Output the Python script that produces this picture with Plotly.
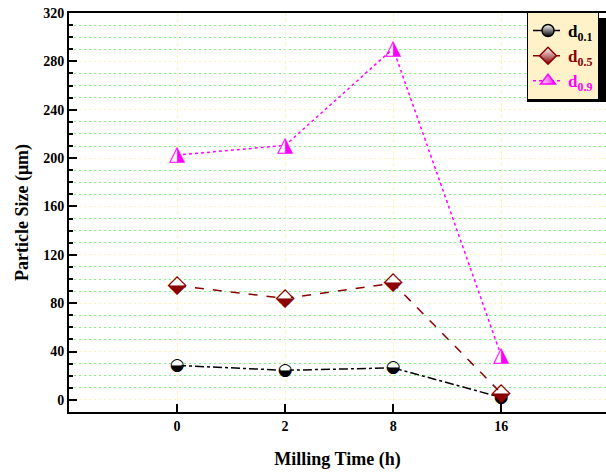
import plotly.graph_objects as go

milling_time = ["0", "2", "8", "16"]
d01 = [28.5, 24.5, 26.5, 2.0]
d05 = [94.5, 84.0, 96.5, 5.5]
d09 = [202.5, 210.5, 290.5, 36.5]

FONT = "Liberation Serif"
# label, values, colour, dash, symbol, marker size, glyph, glyph font size, gradient type
series = [
    ("0.1", d01, "black", "dashdot", "circle", 12, "◒", 17, "vertical"),
    ("0.5", d05, "#8B0000", "dash", "diamond", 13, "⬙", 25, "vertical"),
    ("0.9", d09, "#FF00FF", "dot", "triangle-up", 13, "◮", 21, "horizontal"),
]

fig = go.Figure()
for sub, vals, col, dash, sym, size, glyph, gsize, gtype in series:
    fig.add_trace(go.Scatter(
        x=milling_time, y=vals, mode="lines", showlegend=False, hoverinfo="skip",
        line=dict(color=col, width=1.5, dash=dash),
    ))
for sub, vals, col, dash, sym, size, glyph, gsize, gtype in series:
    fig.add_trace(go.Scatter(
        x=milling_time, y=vals, mode="markers", showlegend=False, hoverinfo="skip",
        marker=dict(symbol=sym, size=size - 3, color="white", line=dict(width=0)),
    ))
    fig.add_trace(go.Scatter(
        x=milling_time, y=vals, mode="text", text=[glyph] * len(vals),
        textposition="middle center", showlegend=False, hoverinfo="skip",
        textfont=dict(family="DejaVu Sans", size=gsize, color=col),
    ))
for sub, vals, col, dash, sym, size, glyph, gsize, gtype in series:
    fig.add_trace(go.Scatter(
        x=[None], y=[None], mode="lines+markers",
        name=f"<b><span style='color:{col}'>d<sub>{sub}</sub></span></b>",
        line=dict(color=col, width=1.5, dash=dash),
        marker=dict(symbol=sym, size=size, color="white",
                    gradient=dict(type=gtype, color=col),
                    line=dict(color=col, width=1.5)),
    ))

fig.update_layout(
    width=606, height=472,
    margin=dict(l=69, r=0, t=13, b=60),
    paper_bgcolor="white", plot_bgcolor="white",
    font=dict(family=FONT, color="black"),
    showlegend=True,
    legend=dict(
        x=0.987, y=1.0025, xanchor="right", yanchor="top",
        bgcolor="#FFF2C8", bordercolor="black", borderwidth=1,
        font=dict(family=FONT, size=17, color="black"),
        tracegroupgap=0, itemwidth=30,
    ),
    xaxis=dict(
        type="category", range=[-1, 3.97],
        showline=True, linecolor="black", linewidth=2, mirror=True,
        ticks="inside", ticklen=8, tickwidth=2, tickcolor="black",
        showgrid=True, gridcolor="#FFF5B0", griddash="dot", gridwidth=1,
        tickfont=dict(family=FONT, size=14, color="black", weight="bold"),
        title=dict(text="<b>Milling Time (h)</b>",
                   font=dict(family=FONT, size=18, color="black"), standoff=20),
        zeroline=False,
    ),
    yaxis=dict(
        range=[-10, 320], tickvals=[0, 40, 80, 120, 160, 200, 240, 280, 320],
        showline=True, linecolor="black", linewidth=2, mirror=False,
        ticks="inside", ticklen=8, tickwidth=2, tickcolor="black",
        showgrid=True, gridcolor="#FFF0C0", griddash="2px,3px", gridwidth=1,
        minor=dict(dtick=10, tick0=0, ticks="inside", ticklen=4, tickwidth=2,
                   tickcolor="black", showgrid=True, gridcolor="#80F080",
                   griddash="2px,3px", gridwidth=1),
        tickfont=dict(family=FONT, size=14, color="black", weight="bold"),
        title=dict(text="<b>Particle Size (μm)</b>",
                   font=dict(family=FONT, size=18, color="black"), standoff=10),
        zeroline=False,
    ),
)

# legend shadow
fig.add_shape(type="rect", xref="paper", yref="paper",
              x0=(527 - 69) / 537, x1=(606 - 69) / 537,
              y0=(412 - 102) / 399, y1=(412 - 18) / 399,
              fillcolor="black", line=dict(width=0), layer="above")

fig.write_html("out.html")
